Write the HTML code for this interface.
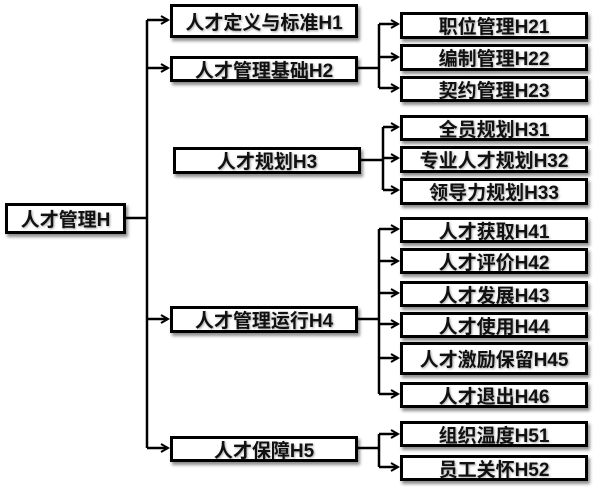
<!DOCTYPE html>
<html><head><meta charset="utf-8"><style>
body{margin:0;width:601px;height:497px;background:#fff;position:relative;overflow:hidden;font-family:"Liberation Sans","Noto Sans CJK SC",sans-serif}
.b{position:absolute;box-sizing:border-box;border:3px solid #000;background:#fff;box-shadow:2px 3px 3px rgba(0,0,0,.45);display:flex;align-items:center;justify-content:center;font-weight:bold;font-size:19px;color:#111;text-shadow:1px 1px 2px rgba(0,0,0,.35);white-space:nowrap}
svg{position:absolute;left:0;top:0}
</style></head><body>
<svg width="601" height="497" stroke="#000" stroke-width="2.5" fill="none">
<defs><marker id="a" markerWidth="10" markerHeight="10" refX="8" refY="5" orient="auto" markerUnits="userSpaceOnUse"><path d="M1,1 L8,5 L1,9" stroke="#000" stroke-width="2" fill="none"/></marker></defs>
<path d="M126,218 H147 M147,20 V448"/>
<path d="M147,20 H168" marker-end="url(#a)"/>
<path d="M147,68 H168" marker-end="url(#a)"/>
<path d="M147,319 H168" marker-end="url(#a)"/>
<path d="M147,448 H168" marker-end="url(#a)"/>
<path d="M357,68 H379 M379,24 V88"/>
<path d="M379,24 H398" marker-end="url(#a)"/><path d="M379,57 H398" marker-end="url(#a)"/><path d="M379,88 H398" marker-end="url(#a)"/>
<path d="M360,160 H383 M383,127 V190"/>
<path d="M383,127 H398" marker-end="url(#a)"/><path d="M383,158 H398" marker-end="url(#a)"/><path d="M383,190 H398" marker-end="url(#a)"/>
<path d="M357,319 H379 M379,229 V394"/>
<path d="M379,229 H398" marker-end="url(#a)"/><path d="M379,261 H398" marker-end="url(#a)"/><path d="M379,293 H398" marker-end="url(#a)"/><path d="M379,324 H398" marker-end="url(#a)"/><path d="M379,358 H398" marker-end="url(#a)"/><path d="M379,394 H398" marker-end="url(#a)"/>
<path d="M357,448 H379 M379,434 V467"/>
<path d="M379,434 H398" marker-end="url(#a)"/><path d="M379,467 H398" marker-end="url(#a)"/>
</svg>
<div class="b" style="left:5px;top:203px;width:121px;height:31px">人才管理H</div>
<div class="b" style="left:170px;top:4px;width:188px;height:34px">人才定义与标准H1</div>
<div class="b" style="left:170px;top:56px;width:188px;height:26px">人才管理基础H2</div>
<div class="b" style="left:173px;top:147px;width:188px;height:27px">人才规划H3</div>
<div class="b" style="left:170px;top:306px;width:188px;height:27px">人才管理运行H4</div>
<div class="b" style="left:170px;top:436px;width:188px;height:26px">人才保障H5</div>
<div class="b" style="left:400px;top:12px;width:188px;height:27px">职位管理H21</div>
<div class="b" style="left:400px;top:44px;width:188px;height:27px">编制管理H22</div>
<div class="b" style="left:400px;top:76px;width:188px;height:26px">契约管理H23</div>
<div class="b" style="left:400px;top:115px;width:188px;height:26px">全员规划H31</div>
<div class="b" style="left:400px;top:146px;width:188px;height:27px">专业人才规划H32</div>
<div class="b" style="left:400px;top:178px;width:188px;height:27px">领导力规划H33</div>
<div class="b" style="left:400px;top:217px;width:188px;height:26px">人才获取H41</div>
<div class="b" style="left:400px;top:248px;width:188px;height:26px">人才评价H42</div>
<div class="b" style="left:400px;top:281px;width:188px;height:26px">人才发展H43</div>
<div class="b" style="left:400px;top:312px;width:188px;height:26px">人才使用H44</div>
<div class="b" style="left:400px;top:342px;width:188px;height:33px">人才激励保留H45</div>
<div class="b" style="left:400px;top:382px;width:188px;height:26px">人才退出H46</div>
<div class="b" style="left:400px;top:421px;width:188px;height:26px">组织温度H51</div>
<div class="b" style="left:400px;top:455px;width:188px;height:26px">员工关怀H52</div>
</body></html>
